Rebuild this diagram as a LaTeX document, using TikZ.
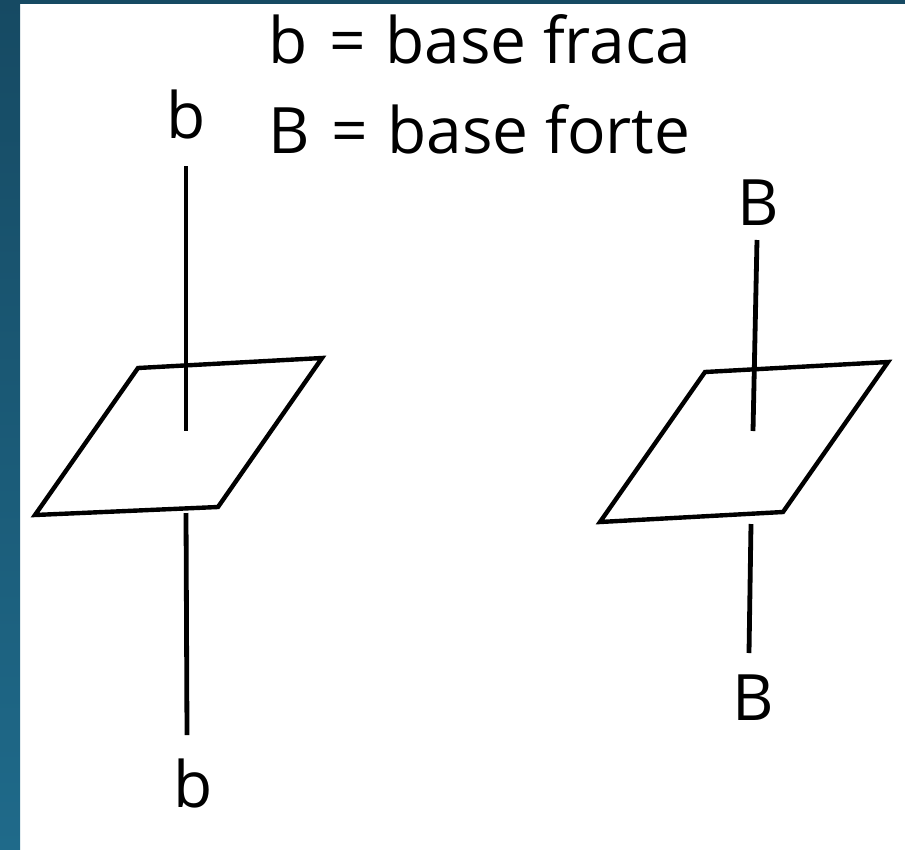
\documentclass[tikz,border=0pt]{standalone}
\usepackage{fontspec}
\setmainfont{Open Sans}
\definecolor{bandtop}{HTML}{164A63}
\definecolor{bandbot}{HTML}{1F6A8A}
\begin{document}
\begin{tikzpicture}[x=1pt,y=-1pt,
    plane/.style={line width=4.4pt, line join=miter},
    axis/.style={line width=4.8pt},
    lbl/.style={inner sep=0pt, anchor=base, font=\fontsize{64}{77}\selectfont}]
    \useasboundingbox (0,0) rectangle (905,849);
    % Draw the slide background
    \fill[white] (0,0) rectangle (905,849);
    \shade[top color=bandtop, bottom color=bandbot] (0,0) rectangle (20,849);
    \fill[bandtop] (0,0) rectangle (905,4);

    % Legend
    \node at (268,63) [lbl, anchor=base west] (leg1) {b\kern5pt{} =\kern3pt{} base fraca};
    \node at (268,153) [lbl, anchor=base west] (leg2) {B\kern5pt{} =\kern3pt{} base forte};

% weak base (left)
\node at (186,138) [lbl] (bT) {b};
\node at (193,807) [lbl] (bB) {b};
\coordinate (bT1) at (186,166);
\coordinate (bT2) at (186,431);
\coordinate (bB1) at (186,513);
\coordinate (bB2) at (187,735);
\draw[plane] (138,368) -- (322,358) -- (218,507) -- (35,515) -- cycle;
\draw[axis] (bT1) -- (bT2);
\draw[axis] (bB1) -- (bB2);

% strong base (right)
\node at (758,225) [lbl] (BT) {B};
\node at (753,720) [lbl] (BB) {B};
\coordinate (BT1) at (757,240);
\coordinate (BT2) at (753,431);
\coordinate (BB1) at (751,524);
\coordinate (BB2) at (749,653);
\draw[plane] (705,372) -- (888,362) -- (783,512) -- (600,522) -- cycle;
\draw[axis] (BT1) -- (BT2);
\draw[axis] (BB1) -- (BB2);
\end{tikzpicture}
\end{document}
